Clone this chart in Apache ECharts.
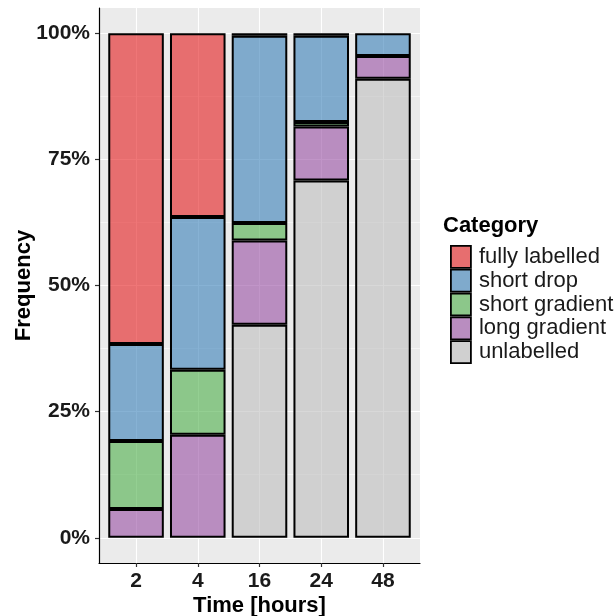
<!DOCTYPE html>
<html>
<head>
<meta charset="utf-8">
<script src="https://cdn.jsdelivr.net/npm/echarts@6/dist/echarts.min.js"></script>
<style>
  html, body { margin: 0; padding: 0; background: #ffffff; }
  #chart { width: 616px; height: 616px; }
</style>
</head>
<body>
<div id="chart"></div>
<script>
// Time points (hours)
const times = ['2', '4', '16', '24', '48'];

// Share of each category per time point, in percent (stacked bottom to top)
const unlabelled     = [null, null, 42.2, 70.8, 91.0];
const longGradient   = [5.7, 20.4, 16.7, 10.7, 4.5];
const shortGradient  = [13.5, 12.9, 3.5, 0.9, null];
const shortDrop      = [19.2, 30.3, 37.1, 17.1, 4.5];
const fullyLabelled  = [61.6, 36.4, 0.5, 0.5, null];

// Y tick values
const yTicks = [0, 25, 50, 75, 100];

// Category names, fill colours (drawn at 60% alpha) and legend key colours
const categoryNames = ['fully labelled', 'short drop', 'short gradient', 'long gradient', 'unlabelled'];
const baseColors = {
  'fully labelled': [228, 26, 28],
  'short drop':     [55, 126, 184],
  'short gradient': [77, 175, 74],
  'long gradient':  [152, 78, 163],
  'unlabelled':     [190, 190, 190]
};
const seriesValues = {
  'unlabelled': unlabelled,
  'long gradient': longGradient,
  'short gradient': shortGradient,
  'short drop': shortDrop,
  'fully labelled': fullyLabelled
};
const stackOrder = ['unlabelled', 'long gradient', 'short gradient', 'short drop', 'fully labelled'];

const ALPHA = 0.6;
const PANEL_BG = [235, 235, 235];
function rgba(c) { return 'rgba(' + c[0] + ',' + c[1] + ',' + c[2] + ',' + ALPHA + ')'; }
function blended(c) {
  const m = c.map((v, i) => Math.round(ALPHA * v + (1 - ALPHA) * PANEL_BG[i]));
  return 'rgb(' + m.join(',') + ')';
}

// Panel geometry (ggplot-like expansion: 5% on y, 0.6 band on x)
const panel = { left: 99, top: 8, width: 321, height: 555 };
const nCat = times.length;
const band = panel.width / (nCat + 0.2);
const yExpand = panel.height * 0.05 / 1.1;
const dataTop = panel.top + yExpand;
const dataHeight = panel.height - 2 * yExpand;

const FONT = 'Liberation Sans, Arial, sans-serif';
const TXT = '#1a1a1a';

const chart = echarts.init(document.getElementById('chart'), null, { renderer: 'canvas' });

const option = {
  animation: false,
  backgroundColor: '#ffffff',
  textStyle: { fontFamily: FONT },
  title: {
    text: 'Category',
    left: 438,
    top: 210,
    textStyle: { fontFamily: FONT, fontWeight: 'bold', fontSize: 22, color: '#000' }
  },
  legend: {
    orient: 'vertical',
    left: 445,
    top: 240,
    itemWidth: 20,
    itemHeight: 22,
    itemGap: 0,
    icon: 'rect',
    selectedMode: false,
    itemStyle: { borderColor: '#000', borderWidth: 1.8 },
    textStyle: { fontFamily: FONT, fontSize: 22, color: TXT, lineHeight: 22, padding: [0, 0, 0, 3] },
    data: categoryNames.map(n => ({ name: n, itemStyle: { color: blended(baseColors[n]) } }))
  },
  grid: [
    // 0: panel background and axis lines
    { left: panel.left, top: panel.top, width: panel.width, height: panel.height,
      show: true, backgroundColor: '#EBEBEB', borderWidth: 0, outerBoundsMode: 'none' },
    // 1: y scale (labels, ticks, horizontal gridlines)
    { left: panel.left, top: dataTop, width: panel.width, height: dataHeight, outerBoundsMode: 'none' },
    // 2: x scale (labels, ticks, vertical gridlines at category centres)
    { left: panel.left + 0.6 * band, top: panel.top, width: (nCat - 1) * band, height: panel.height,
      outerBoundsMode: 'none' },
    // 3: bars
    { left: panel.left + 0.1 * band, top: dataTop, width: nCat * band, height: dataHeight, outerBoundsMode: 'none' }
  ],
  xAxis: [
    { gridIndex: 0, type: 'value', min: 0, max: 1, axisLine: { show: true, lineStyle: { color: '#000', width: 1.2 } },
      axisTick: { show: false }, axisLabel: { show: false }, splitLine: { show: false } },
    { gridIndex: 1, type: 'value', min: 0, max: 1, show: false },
    { gridIndex: 2, type: 'category', data: times, boundaryGap: false,
      axisLine: { show: false },
      axisTick: { show: true, length: 4, lineStyle: { color: '#333', width: 1.2 } },
      axisLabel: { show: true, margin: 8, fontFamily: FONT, fontSize: 21, fontWeight: 'bold', color: TXT },
      splitLine: { show: true, lineStyle: { color: '#ffffff', width: 1.1 } },
      name: 'Time [hours]', nameLocation: 'middle', nameGap: 31.5, nameMoveOverlap: false,
      nameTextStyle: { fontFamily: FONT, fontSize: 22, fontWeight: 'bold', color: '#000' } },
    { gridIndex: 3, type: 'category', data: times, boundaryGap: true, show: false }
  ],
  yAxis: [
    { gridIndex: 0, type: 'value', min: 0, max: 1, axisLine: { show: true, lineStyle: { color: '#000', width: 1.2 } },
      axisTick: { show: false }, axisLabel: { show: false }, splitLine: { show: false } },
    { gridIndex: 1, type: 'value', min: 0, max: 100, interval: 25,
      axisLine: { show: false },
      axisTick: { show: true, length: 4, lineStyle: { color: '#333', width: 1.2 } },
      axisLabel: { show: true, margin: 9, fontFamily: FONT, fontSize: 21, fontWeight: 'bold', color: TXT,
        formatter: v => (yTicks.indexOf(v) >= 0 ? v + '%' : '') },
      splitLine: { show: true, lineStyle: { color: '#ffffff', width: 1.1 } },
      minorTick: { show: false, splitNumber: 2 },
      minorSplitLine: { show: true, lineStyle: { color: '#ffffff', width: 0.55 } },
      name: 'Frequency', nameLocation: 'middle', nameGap: 64.5, nameRotate: 90, nameMoveOverlap: false,
      nameTextStyle: { fontFamily: FONT, fontSize: 22, fontWeight: 'bold', color: '#000' } },
    { gridIndex: 2, type: 'value', min: 0, max: 1, show: false },
    { gridIndex: 3, type: 'value', min: 0, max: 100, show: false }
  ],
  series: stackOrder.map(n => ({
    name: n,
    type: 'bar',
    xAxisIndex: 3,
    yAxisIndex: 3,
    stack: 'share',
    barCategoryGap: '10%',
    data: seriesValues[n],
    itemStyle: { color: rgba(baseColors[n]), borderColor: '#000', borderWidth: 2 },
    emphasis: { disabled: true }
  }))
};

chart.setOption(option);
</script>
</body>
</html>
